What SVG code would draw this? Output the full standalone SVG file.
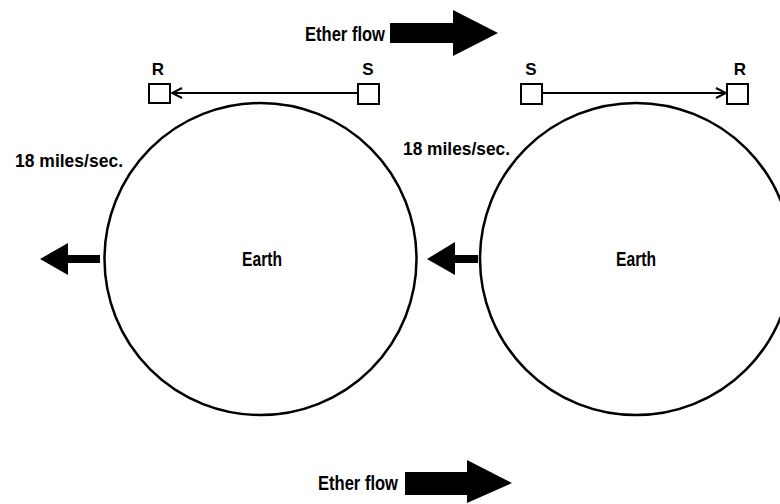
<svg xmlns="http://www.w3.org/2000/svg" width="780" height="504" viewBox="0 0 780 504">
<style>
text{font-family:"Liberation Sans","DejaVu Sans",sans-serif;font-weight:bold;fill:#000}
.lbl{font-size:21px}
.rs{font-size:17px;text-anchor:middle}
.spd{font-size:18px}
.earth{font-size:20px}
.box{fill:#fff;stroke:#000;stroke-width:2}
.circ{fill:none;stroke:#000;stroke-width:2.5}
.line{stroke:#000;stroke-width:2;fill:none}
.big{fill:#000}
</style>
<defs>
<marker id="chev" viewBox="0 0 12 12" refX="11" refY="6" markerWidth="12" markerHeight="12" markerUnits="userSpaceOnUse" orient="auto">
<path d="M1,1 L11,6 L1,11" fill="none" stroke="#000" stroke-width="2"/>
</marker>
</defs>
<rect width="780" height="504" fill="#fff"/>
<g id="ether-top">
<text class="lbl" x="305" y="41" textLength="80" lengthAdjust="spacingAndGlyphs">Ether flow</text>
<polygon class="big" points="390,23 453,23 453,10 498,33 453,56 453,43 390,43"/>
</g>
<g id="ether-bottom">
<text class="lbl" x="318" y="490" textLength="80" lengthAdjust="spacingAndGlyphs">Ether flow</text>
<polygon class="big" points="405,472 467,472 467,460 512,483 467,503 467,495 405,495"/>
</g>
<g id="earth-left">
<circle class="circ" cx="260.5" cy="259" r="156"/>
<text class="earth" x="242" y="266" textLength="40" lengthAdjust="spacingAndGlyphs">Earth</text>
</g>
<g id="earth-right">
<circle class="circ" cx="636" cy="259" r="156"/>
<text class="earth" x="616" y="266" textLength="40" lengthAdjust="spacingAndGlyphs">Earth</text>
</g>
<g id="R-left">
<rect class="box" x="149" y="84" width="21" height="19"/>
<text class="rs" x="158" y="75">R</text>
</g>
<g id="S-left">
<rect class="box" x="358" y="84" width="21" height="20"/>
<text class="rs" x="368" y="75">S</text>
</g>
<g id="S-right">
<rect class="box" x="521" y="84" width="21" height="20"/>
<text class="rs" x="531" y="75">S</text>
</g>
<g id="R-right">
<rect class="box" x="727" y="84" width="21" height="20"/>
<text class="rs" x="740" y="75">R</text>
</g>
<g id="speed-left">
<text class="spd" x="15" y="167" textLength="108" lengthAdjust="spacingAndGlyphs">18 miles/sec.</text>
</g>
<g id="speed-right">
<text class="spd" x="403" y="155" textLength="107" lengthAdjust="spacingAndGlyphs">18 miles/sec.</text>
</g>
<g id="connectors">
<line class="line" x1="358" y1="93" x2="172" y2="93" marker-end="url(#chev)"/>
<line class="line" x1="542" y1="93" x2="726" y2="93" marker-end="url(#chev)"/>
<polygon class="big" points="100,255 68,255 68,243 40,259 68,275 68,263 100,263"/>
<polygon class="big" points="478,255 455,255 455,242 427,259 455,275 455,263 478,263"/>
</g>
</svg>
